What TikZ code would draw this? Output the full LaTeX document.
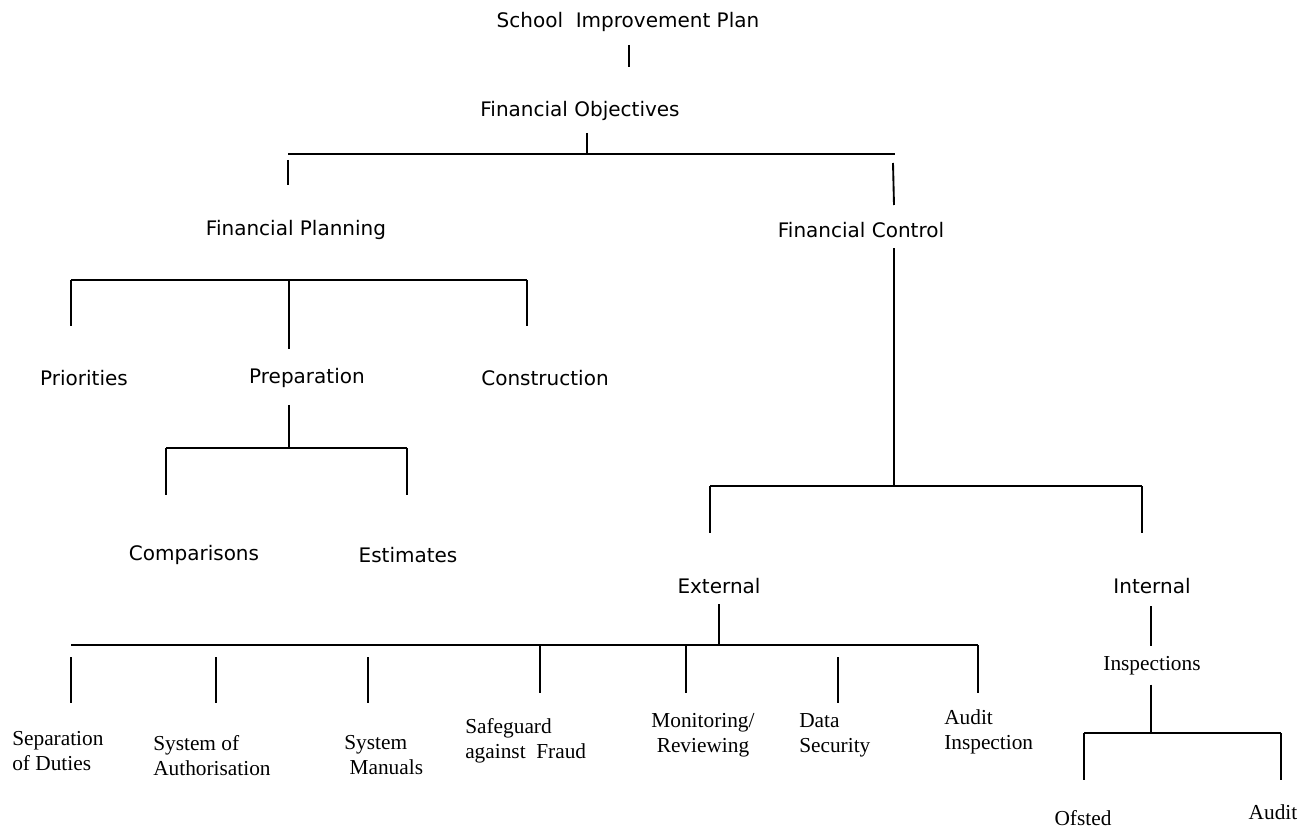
\documentclass[tikz,border=0pt]{standalone}
\usepackage{fontspec}
\setmainfont{Liberation Serif}
\newfontfamily\handfont{DejaVu Sans}
\usetikzlibrary{calc}

\begin{document}
\begin{tikzpicture}[x=0.75pt, y=-0.75pt,
    HW/.style={inner sep=0pt, font=\handfont\fontsize{15}{18}\selectfont},
    TR/.style={inner sep=0pt, align=left, anchor=north west, font=\fontsize{16}{19}\selectfont},
    tie/.style={line width=1.4pt}
    ]
    \useasboundingbox (0,0) rectangle (1314,830);
    % upper levels
    \node[HW] (sip) at (628,22) {School\ \ Improvement Plan};
    \node[HW] (fo) at (580,111) {Financial Objectives};
    \node[HW] (fp) at (296,230) {Financial Planning};
    \node[HW] (fc) at (861,230) {Financial Control};
    \node[HW] (pri) at (84,378) {Priorities};
    \node[HW] (prep) at (307,378) {Preparation};
    \node[HW] (cons) at (545,378) {Construction};
    \node[HW] (comp) at (194,555) {Comparisons};
    \node[HW] (est) at (408,555) {Estimates};
    \node[HW] (ext) at (719,586) {External};
    \node[HW] (int) at (1152,586) {Internal};
    % lower levels
    \node[TR] (sep) at (12,731) {Separation\\of Duties};
    \node[TR] (auth) at (153,735) {System of\\Authorisation};
    \node[TR] (man) at (344,735) {System\\\hspace{0.25em}Manuals};
    \node[TR] (fraud) at (465,718) {Safeguard\\against\ \ Fraud};
    \node[TR, align=center, anchor=north] (mon) at (703,713) {Monitoring/\\Reviewing};
    \node[TR] (data) at (799,713) {Data\\Security};
    \node[TR] (audi) at (944,709) {Audit\\Inspection};
    \node[TR, anchor=center] (insp) at (1152,666) {Inspections};
    \node[TR, anchor=center] (ofs) at (1083,818) {Ofsted};
    \node[TR, anchor=center] (aud) at (1273,812) {Audit};

    % bars
    \coordinate (ob1) at (288,154);  \coordinate (ob2) at (895,154);
    \coordinate (pl1) at (71,280);   \coordinate (pl2) at (527,280);
    \coordinate (pr1) at (166,448);  \coordinate (pr2) at (407,448);
    \coordinate (ct1) at (710,486);  \coordinate (ct2) at (1142,486);
    \coordinate (ex1) at (71,645);   \coordinate (ex2) at (978,645);
    \coordinate (in1) at (1084,733); \coordinate (in2) at (1281,733);
    \foreach \a/\b in {ob1/ob2, pl1/pl2, pr1/pr2, ct1/ct2, ex1/ex2, in1/in2}
        \draw[tie] (\a) -- (\b);

    % stubs
    \draw[tie] ($(sip.south)+(1,13)$) -- ++(0,22);
    \draw[tie] (587,133) -- (ob1 -| 587,0);
    \draw[tie] ($(ob1)+(0,6)$) -- ++(0,25);
    \draw[tie] ($(ob2)+(-2,9)$) -- ($(ob2)+(-1,51)$);
    \draw[tie] (fc.south -| 894,0) ++(0,10) -- (ct1 -| 894,0);
    \draw[tie] (pl1) -- ++(0,46);
    \draw[tie] (pl2) -- ++(0,46);
    \draw[tie] (pl1 -| 289,0) -- ++(0,69);
    \draw[tie] ($(prep.south)+(-18,17)$) -- (pr1 -| 289,0);
    \draw[tie] (pr1) -- ++(0,47);
    \draw[tie] (pr2) -- ++(0,47);
    \draw[tie] (ct1) -- ++(0,47);
    \draw[tie] (ct2) -- ++(0,47);
    \draw[tie] ($(ext.south)+(0,10)$) -- (ex1 -| ext.south);
    \foreach \x in {71,216,368,838}
        \draw[tie] (\x,657) -- (\x,703);
    \foreach \x in {540,686,978}
        \draw[tie] (ex1 -| \x,0) -- ++(0,48);
    \draw[tie] ($(int.south)+(-1,12)$) -- ++(0,40);
    \draw[tie] ($(insp.south)+(-1,9)$) -- (in1 -| 1151,0);
    \draw[tie] (in1) -- ++(0,47);
    \draw[tie] (in2) -- ++(0,47);
\end{tikzpicture}
\end{document}
